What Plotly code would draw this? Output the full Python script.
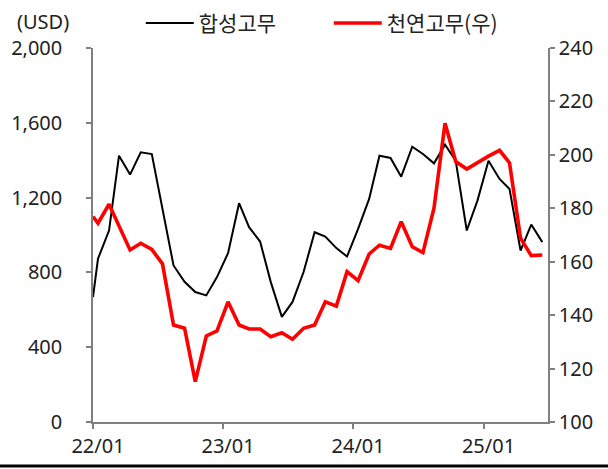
import pandas as pd
import plotly.graph_objects as go

# x: first point at 2022-01-01, then monthly mid-points Jan-2022 .. Jun-2025
dates = ["2022-01-01"] + [d.strftime("%Y-%m-15") for d in pd.date_range("2022-01-01", "2025-06-01", freq="MS")]

synthetic = [668, 873, 1024, 1424, 1323, 1442, 1433, 1140, 837, 750, 695, 677, 775,
             903, 1170, 1042, 965, 748, 562, 642, 802, 1015, 992, 930, 885,
             1033, 1193, 1424, 1412, 1312, 1472, 1433, 1383, 1483, 1397, 1024,
             1184, 1397, 1300, 1246, 917, 1056, 962]

natural = [176.9, 174.4, 181.5, 173.5, 164.4, 166.9, 164.6, 159.2, 136.3, 135.1, 115.1, 132.2, 134.1,
           145.0, 136.3, 134.8, 134.8, 131.9, 133.4, 131.0, 135.1, 136.3, 145.0, 143.4, 156.3,
           152.9, 162.9, 166.2, 165.0, 175.0, 165.6, 163.4, 180.0, 211.8, 197.5, 194.7,
           197.2, 199.5, 201.7, 197.0, 168.8, 162.3, 162.5]

xtick_vals = ["2022-01-01", "2023-01-01", "2024-01-01", "2025-01-01"]
xtick_text = ["22/01", "23/01", "24/01", "25/01"]
left_ticks = [0, 400, 800, 1200, 1600, 2000]
right_ticks = [100, 120, 140, 160, 180, 200, 220, 240]

FONT = "Noto Sans, Noto Sans CJK KR, sans-serif"
KFONT = "Noto Sans CJK KR, sans-serif"
AXC = "#808080"

fig = go.Figure()
fig.add_trace(go.Scatter(x=dates, y=synthetic, name="합성고무", mode="lines",
                         line=dict(color="black", width=2)))
fig.add_trace(go.Scatter(x=dates, y=natural, name="천연고무(우)", mode="lines",
                         line=dict(color="#ff0000", width=3.6), yaxis="y2"))

axis_common = dict(showgrid=False, zeroline=False, showline=True, linecolor=AXC, linewidth=1.5,
                   ticks="outside", ticklen=5, tickcolor=AXC, tickwidth=1.5,
                   tickfont=dict(size=20, color="#222", family=FONT))

fig.update_layout(
    width=608, height=469,
    margin=dict(l=93, r=60, t=48, b=47, autoexpand=False),
    paper_bgcolor="white", plot_bgcolor="white",
    font=dict(family=FONT, size=16, color="#222"),
    showlegend=True,
    legend=dict(orientation="h", x=0.105, y=1.066, xanchor="left", yanchor="middle",
                font=dict(size=21, color="#222", family=KFONT), itemwidth=48,
                entrywidth=125, entrywidthmode="pixels",
                tracegroupgap=0, bgcolor="rgba(0,0,0,0)"),
    xaxis=dict(type="date", range=["2022-01-01", "2025-07-01"], ticklabelshift=5,
               tickvals=xtick_vals, ticktext=xtick_text, **axis_common),
    yaxis=dict(range=[0, 2000], tickvals=left_ticks,
               ticktext=[f"{v:,}\u2003" for v in left_ticks], **axis_common),
    yaxis2=dict(range=[100, 240], tickvals=right_ticks, overlaying="y", side="right",
                **axis_common),
    annotations=[dict(text="(USD)", xref="paper", yref="paper", x=-0.172, y=1.07,
                      xanchor="left", yanchor="middle", showarrow=False,
                      font=dict(size=20, color="#222", family=FONT))],
    shapes=[dict(type="line", xref="paper", yref="paper", x0=-0.21, x1=1.14,
                 y0=-0.1175, y1=-0.1175, line=dict(color="black", width=3))],
)

fig.write_html("out.html", post_script="document.body.style.margin='0';",
               config={"displayModeBar": False})
